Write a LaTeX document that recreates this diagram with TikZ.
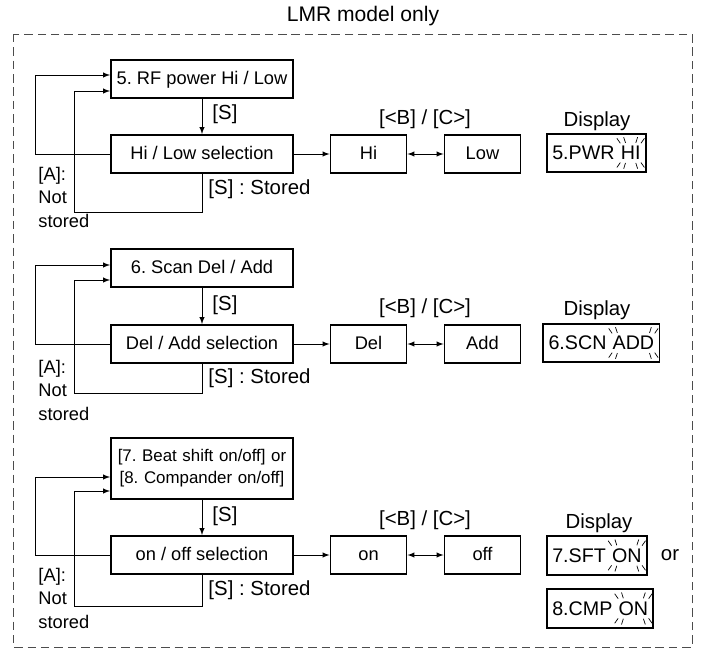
\documentclass[tikz,border=0pt]{standalone}
\usepackage{fontspec}
\setmainfont{Liberation Sans}
\usepackage{tikz}
\usetikzlibrary{calc,positioning,fit,arrows}
\frenchspacing
\newcommand{\blinkmarks}[1]{%
  \foreach \crn/\dx/\dy/\ang in {north west/0/0.06/125,north west/0.13/0.07/108,%
    north east/0/0.06/55,north east/-0.13/0.07/72,%
    south west/0/-0.06/235,south west/0.13/-0.07/252,%
    south east/0/-0.06/305,south east/-0.13/-0.07/288}%
    {\draw[line width=0.5pt] ($(#1.\crn)+(\dx,\dy)$) -- ++(\ang:0.15);}}

\begin{document}
\begin{tikzpicture}[line width=0.7pt, font=\fontsize{13}{16}\selectfont]
\tikzstyle{frame}=[draw,line width=1.4pt,minimum height=9.5mm,inner sep=0pt,text centered]
\tikzstyle{box}=[frame,text height=1.4ex,text depth=0ex]
\tikzstyle{lbl}=[inner sep=0pt,font=\fontsize{14.5}{17}\selectfont]
\tikzstyle{dtxt}=[inner sep=0pt,font=\fontsize{14}{16}\selectfont]
\tikzstyle{dsp}=[draw,line width=1.4pt,inner xsep=1.2mm,inner ysep=3mm]
\tikzstyle{note}=[inner sep=0pt,align=left,anchor=north west,font=\fontsize{13}{16.5}\selectfont]
\useasboundingbox (0,0) rectangle (17.525,-16.25);
\draw[dash pattern=on 6pt off 3.5pt,black!70,line width=0.6pt] (0.325,-0.85) rectangle (17.3,-16.175);
\node[font=\fontsize{15}{18}\selectfont] (ttl) at (9.075,-0.4) {LMR model only};

% 5. RF power
\node[box,minimum width=45.5mm] (t1) at (5.05,-1.975) {5. RF power Hi / Low};
\node[box,minimum width=45.5mm] (s1) at (5.05,-3.85) {Hi / Low selection};
\node[box,minimum width=19mm] (hi) at (9.2125,-3.85) {Hi};
\node[box,minimum width=19mm] (lo) at (12.0625,-3.85) {Low};
\node[lbl,anchor=west] (k1) at (5.3,-2.85) {[S]};
\node[lbl,anchor=west] (st1) at (5.2,-4.725) {[S] : Stored};
\node[note] (a1) at (0.95,-4.175) {[A]:\\Not\\stored};
\node[lbl] (bc1) at (10.625,-2.975) {[<B] / [C>]};
\node[lbl] (dl1) at (14.925,-3.025) {Display};
\node[dtxt,anchor=west] (d1a) at (13.795,-3.825) {5.PWR};
\node[dtxt,base right=1.3mm of d1a] (d1b) {HI};
\node[dsp,fit=(d1a)(d1b)] (d1) {};
\blinkmarks{d1b}

\draw[->,>=latex] (t1) -- (s1);
\draw[->,>=latex] (s1) -- (hi);
\draw[<->,>=latex] (hi) -- (lo);
\draw[->,>=latex] (s1.west) -- ++(-1.875,0) |- ($(t1.west)+(0,0.1)$);
\draw[->,>=latex] (s1.south) -- ++(0,-0.975) -- ++(-3.2,0) |- ($(t1.west)+(0,-0.3)$);

% 6. Scan
\node[box,minimum width=45.5mm] (t2) at (5.05,-6.7) {6. Scan Del / Add};
\node[box,minimum width=45.5mm] (s2) at (5.05,-8.6) {Del / Add selection};
\node[box,minimum width=19mm] (del) at (9.2125,-8.6) {Del};
\node[box,minimum width=19mm] (add) at (12.0625,-8.6) {Add};
\node[lbl,anchor=west] (k2) at (5.3,-7.625) {[S]};
\node[lbl,anchor=west] (st2) at (5.2,-9.45) {[S] : Stored};
\node[note] (a2) at (0.95,-9.0) {[A]:\\Not\\stored};
\node[lbl] (bc2) at (10.625,-7.7) {[<B] / [C>]};
\node[lbl] (dl2) at (14.925,-7.75) {Display};
\node[dtxt,anchor=west] (d2a) at (13.7,-8.575) {6.SCN};
\node[dtxt,base right=1.3mm of d2a] (d2b) {ADD};
\node[dsp,fit=(d2a)(d2b)] (d2) {};
\blinkmarks{d2b}

\draw[->,>=latex] (t2) -- (s2);
\draw[->,>=latex] (s2) -- (del);
\draw[<->,>=latex] (del) -- (add);
\draw[->,>=latex] (s2.west) -- ++(-1.875,0) |- ($(t2.west)+(0,0.075)$);
\draw[->,>=latex] (s2.south) -- ++(0,-0.75) -- ++(-3.2,0) |- ($(t2.west)+(0,-0.3)$);

% 7./8. on/off
\node[frame,minimum width=45.5mm,minimum height=15.25mm,text width=44mm,font=\fontsize{12}{15.6}\selectfont] (t3) at (5.05,-11.7125) {[7. Beat shift on/off] or\\{}[8. Compander on/off]};
\node[box,minimum width=45.5mm] (s3) at (5.05,-13.875) {on / off selection};
\node[box,minimum width=19mm] (on) at (9.2125,-13.875) {on};
\node[box,minimum width=19mm] (off) at (12.0625,-13.875) {off};
\node[lbl,anchor=west] (k3) at (5.3,-12.9) {[S]};
\node[lbl,anchor=west] (st3) at (5.2,-14.75) {[S] : Stored};
\node[note] (a3) at (0.95,-14.2) {[A]:\\Not\\stored};
\node[lbl] (bc3) at (10.625,-13.0) {[<B] / [C>]};
\node[lbl] (dl3) at (14.975,-13.075) {Display};
\node[dtxt,anchor=west] (d3a) at (13.795,-13.8875) {7.SFT};
\node[dtxt,base right=1.3mm of d3a] (d3b) {ON};
\node[dsp,fit=(d3a)(d3b)] (d3) {};
\blinkmarks{d3b}
\node[lbl] (or) at (16.75,-13.875) {or};
\node[dtxt,anchor=west] (d4a) at (13.795,-15.2125) {8.CMP};
\node[dtxt,base right=1.3mm of d4a] (d4b) {ON};
\node[dsp,fit=(d4a)(d4b)] (d4) {};
\blinkmarks{d4b}

\draw[->,>=latex] (t3) -- (s3);
\draw[->,>=latex] (s3) -- (on);
\draw[<->,>=latex] (on) -- (off);
\draw[->,>=latex] (s3.west) -- ++(-1.875,0) |- ($(t3.west)+(0,-0.2125)$);
\draw[->,>=latex] (s3.south) -- ++(0,-0.775) -- ++(-3.2,0) |- ($(t3.west)+(0,-0.5625)$);
\end{tikzpicture}
\end{document}
